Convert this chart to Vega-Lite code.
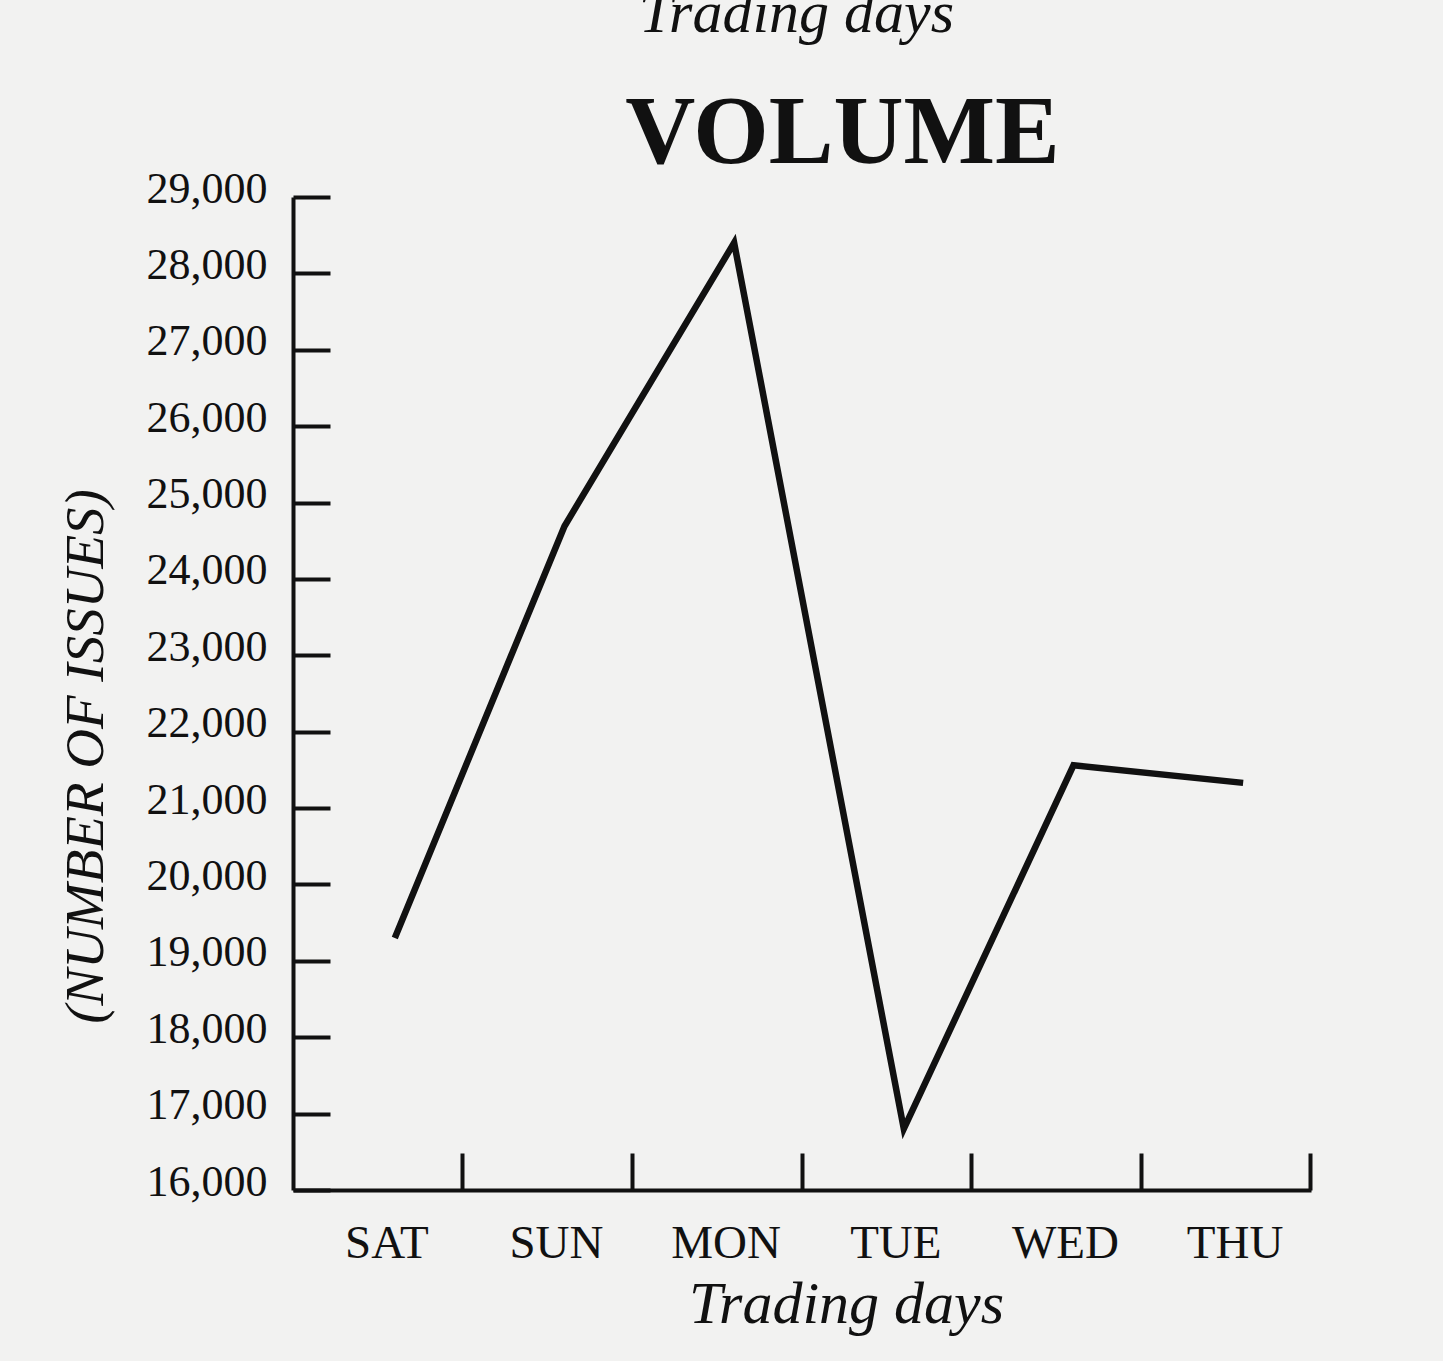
{
  "$schema": "https://vega.github.io/schema/vega-lite/v6.json",
  "autosize": {"type": "none"},
  "width": 1025,
  "height": 993,
  "padding": {"left": 293, "top": 197, "right": 125, "bottom": 171},
  "background": "#f2f2f1",
  "config": {
    "view": {"stroke": null},
    "font": "Liberation Serif",
    "axis": {"grid": false, "domainColor": "#111", "tickColor": "#111", "labelColor": "#111", "titleColor": "#111", "labelFont": "Liberation Serif", "titleFont": "Liberation Serif"}
  },
  "data": {
    "values": [
      {"day": "SAT", "issues": 19300},
      {"day": "SUN", "issues": 24690},
      {"day": "MON", "issues": 28400},
      {"day": "TUE", "issues": 16800},
      {"day": "WED", "issues": 21560},
      {"day": "THU", "issues": 21330}
    ]
  },
  "layer": [
    {
      "mark": {"type": "line", "color": "#111", "strokeWidth": 6.5, "strokeJoin": "miter", "strokeCap": "butt"},
      "encoding": {
        "x": {
          "field": "day", "type": "nominal", "sort": null, "bandPosition": 0.6,
          "scale": {"type": "band", "range": [0, 1018], "paddingInner": 0, "paddingOuter": 0},
          "axis": {
            "orient": "bottom", "bandPosition": 1, "labelOffset": 9, "labelAngle": 0,
            "tickSize": -37, "tickWidth": 4, "domainWidth": 4,
            "labelFontSize": 47, "labelBaseline": "alphabetic", "labelPadding": 104,
            "title": "Trading days", "titleFontSize": 60, "titleFontStyle": "italic", "titleFontWeight": "normal",
            "titleX": 553, "titleY": 132, "titleBaseline": "alphabetic", "titleAnchor": "middle", "titleAlign": "center"
          }
        },
        "y": {
          "field": "issues", "type": "quantitative",
          "scale": {"domain": [16000, 29000], "nice": false, "zero": false},
          "axis": {
            "orient": "left", "values": [16000, 17000, 18000, 19000, 20000, 21000, 22000, 23000, 24000, 25000, 26000, 27000, 28000, 29000],
            "format": ",d", "tickSize": -37, "tickWidth": 4, "domainWidth": 4,
            "labelFontSize": 44, "labelPadding": 63, "labelBaseline": "middle", "labelOffset": -8,
            "title": "(NUMBER OF ISSUES)", "titleFontSize": 55, "titleFontStyle": "italic", "titleFontWeight": "normal",
            "titleX": -208, "titleY": 559, "titleBaseline": "middle", "titleAngle": 270, "titleAlign": "center", "titleAnchor": "middle"
          }
        }
      }
    },
    {
      "mark": {"type": "line", "opacity": 0},
      "encoding": {
        "x": {
          "field": "day", "type": "nominal", "sort": null,
          "axis": {
            "orient": "top", "domain": false, "ticks": false, "labels": false,
            "title": "VOLUME", "titleFontSize": 97, "titleFontWeight": "bold",
            "titleX": 549, "titleY": -35, "titleBaseline": "alphabetic", "titleAlign": "center"
          }
        },
        "y": {
          "field": "issues", "type": "quantitative",
          "axis": {
            "orient": "right", "domain": false, "ticks": false, "labels": false,
            "title": "Trading days", "titleFontSize": 60, "titleFontStyle": "italic", "titleFontWeight": "normal",
            "titleAngle": 0, "titleX": -522, "titleY": -166, "titleBaseline": "alphabetic", "titleAlign": "center"
          }
        }
      }
    }
  ],
  "resolve": {"axis": {"x": "independent", "y": "independent"}}
}
